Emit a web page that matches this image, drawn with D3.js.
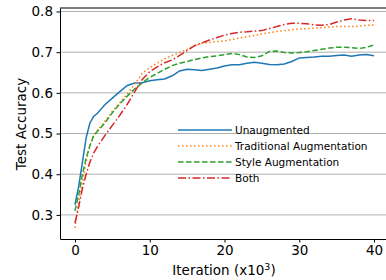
<!DOCTYPE html>
<html>
<head>
<meta charset="utf-8">
<script src="https://cdn.jsdelivr.net/npm/d3@7"></script>
<style>
  body { margin: 0; background: #fff; }
  text { font-family: "DejaVu Sans", sans-serif; fill: #000; }
</style>
</head>
<body>
<svg id="chart"></svg>
<script>
// iterations (x10^3)
const iters = [0, 0.5, 1, 1.5, 2, 2.5, 3, 4, 5, 6, 7, 8, 9, 10, 11, 12, 13, 14, 15, 16, 17, 18, 19, 20,
  21, 22, 23, 24, 25, 26, 27, 28, 29, 30, 31, 32, 33, 34, 35, 36, 37, 38, 39, 40]

const unaugmented = [0.325, 0.37, 0.43, 0.49, 0.526, 0.542, 0.55, 0.571, 0.587, 0.603, 0.618, 0.624, 0.625, 0.630,
  0.632, 0.634, 0.642, 0.654, 0.658, 0.657, 0.655, 0.658, 0.661, 0.666, 0.669, 0.669, 0.673, 0.675, 0.673, 0.670,
  0.669, 0.671, 0.677, 0.686, 0.687, 0.688, 0.690, 0.690, 0.692, 0.693, 0.690, 0.693, 0.694, 0.691]

const traditional = [0.268, 0.33, 0.38, 0.43, 0.47, 0.495, 0.508, 0.530, 0.555, 0.575, 0.597, 0.622, 0.648, 0.662,
  0.673, 0.684, 0.692, 0.699, 0.707, 0.716, 0.722, 0.724, 0.726, 0.728, 0.731, 0.735, 0.738, 0.741, 0.745, 0.748,
  0.751, 0.753, 0.755, 0.757, 0.758, 0.759, 0.760, 0.762, 0.763, 0.763, 0.763, 0.764, 0.766, 0.767]

const style = [0.31, 0.35, 0.40, 0.44, 0.47, 0.495, 0.505, 0.526, 0.551, 0.573, 0.592, 0.610, 0.625, 0.638,
  0.648, 0.658, 0.667, 0.673, 0.677, 0.682, 0.686, 0.689, 0.691, 0.694, 0.697, 0.694, 0.688, 0.687, 0.691, 0.702,
  0.703, 0.699, 0.698, 0.699, 0.701, 0.704, 0.707, 0.710, 0.712, 0.712, 0.711, 0.709, 0.712, 0.718]

const both = [0.28, 0.32, 0.365, 0.40, 0.43, 0.452, 0.468, 0.495, 0.52, 0.545, 0.572, 0.603, 0.633, 0.652,
  0.664, 0.674, 0.681, 0.692, 0.704, 0.716, 0.723, 0.730, 0.736, 0.742, 0.746, 0.749, 0.750, 0.752, 0.753, 0.758,
  0.763, 0.768, 0.771, 0.771, 0.770, 0.767, 0.766, 0.768, 0.774, 0.779, 0.782, 0.779, 0.778, 0.778]

const seriesNames = ['Unaugmented', 'Traditional Augmentation', 'Style Augmentation', 'Both']
const seriesValues = [unaugmented, traditional, style, both]
const xTicks = [0, 10, 20, 30, 40]
const yTicks = [0.3, 0.4, 0.5, 0.6, 0.7, 0.8]

const colors = ['#1f77b4', '#ff7f0e', '#2ca02c', '#d62728']
const dashes = [null, '1.5,2.5', '5.5,2.5', '8,2.5,1.5,2.5']

const width = 386, height = 280
const svg = d3.select('#chart').attr('width', width).attr('height', height)

// plot box (right edge is cut off by the picture)
const plotL = 60, plotR = 389, plotT = 8, plotB = 239

const x = d3.scaleLinear().domain([-2, 42]).range([plotL, plotR])
const y = d3.scaleLinear().domain([0.2408, 0.8086]).range([plotB, plotT])

svg.append('defs').append('clipPath').attr('id', 'clip')
  .append('rect').attr('x', plotL).attr('y', plotT).attr('width', plotR - plotL).attr('height', plotB - plotT)

// horizontal grid
svg.append('g')
  .selectAll('line')
  .data(yTicks)
  .join('line')
  .attr('x1', plotL).attr('x2', plotR)
  .attr('y1', d => y(d)).attr('y2', d => y(d))
  .attr('stroke', '#b0b0b0').attr('stroke-width', 1)

// lines
const line = d3.line()
  .x((d, i) => x(iters[i]))
  .y(d => y(d))

svg.append('g').attr('clip-path', 'url(#clip)')
  .selectAll('path')
  .data(seriesValues)
  .join('path')
  .attr('d', d => line(d))
  .attr('fill', 'none')
  .attr('stroke', (d, i) => colors[i])
  .attr('stroke-width', 1.5)
  .attr('stroke-dasharray', (d, i) => dashes[i])

// axes
const xAxis = svg.append('g')
  .attr('transform', `translate(0,${plotB})`)
  .call(d3.axisBottom(x).tickValues(xTicks).tickSize(3.5).tickPadding(3).tickSizeOuter(0))
const yAxis = svg.append('g')
  .attr('transform', `translate(${plotL},0)`)
  .call(d3.axisLeft(y).tickValues(yTicks).tickFormat(d3.format('.1f')).tickSize(3.5).tickPadding(3.5).tickSizeOuter(0))

;[xAxis, yAxis].forEach(a => {
  a.select('.domain').attr('stroke', '#000').attr('stroke-width', 1)
  a.selectAll('.tick line').attr('stroke', '#000')
  a.selectAll('.tick text').attr('font-size', 13.5).attr('font-family', '"DejaVu Sans", sans-serif').attr('fill', '#000')
})

// top spine
svg.append('line')
  .attr('x1', plotL).attr('x2', plotR).attr('y1', plotT).attr('y2', plotT)
  .attr('stroke', '#000').attr('stroke-width', 1)

// axis labels
svg.append('text')
  .attr('transform', `translate(26,124) rotate(-90)`)
  .attr('text-anchor', 'middle')
  .attr('font-size', 13.5)
  .text('Test Accuracy')

const xl = svg.append('text')
  .attr('x', 224).attr('y', 275)
  .attr('text-anchor', 'middle')
  .attr('font-size', 13.5)
xl.append('tspan').text('Iteration (x10')
xl.append('tspan').attr('dy', -5).attr('font-size', 9.5).text('3')
xl.append('tspan').attr('dy', 5).text(')')

// legend
const legend = svg.append('g')
  .selectAll('g')
  .data(seriesNames)
  .join('g')
  .attr('transform', (d, i) => `translate(178,${130 + i * 16})`)

legend.append('line')
  .attr('x1', 0).attr('x2', 54)
  .attr('stroke', (d, i) => colors[i])
  .attr('stroke-width', 1.5)
  .attr('stroke-dasharray', (d, i) => dashes[i])

legend.append('text')
  .attr('x', 57).attr('y', 4)
  .attr('font-size', 10.5)
  .text(d => d)
</script>
</body>
</html>
